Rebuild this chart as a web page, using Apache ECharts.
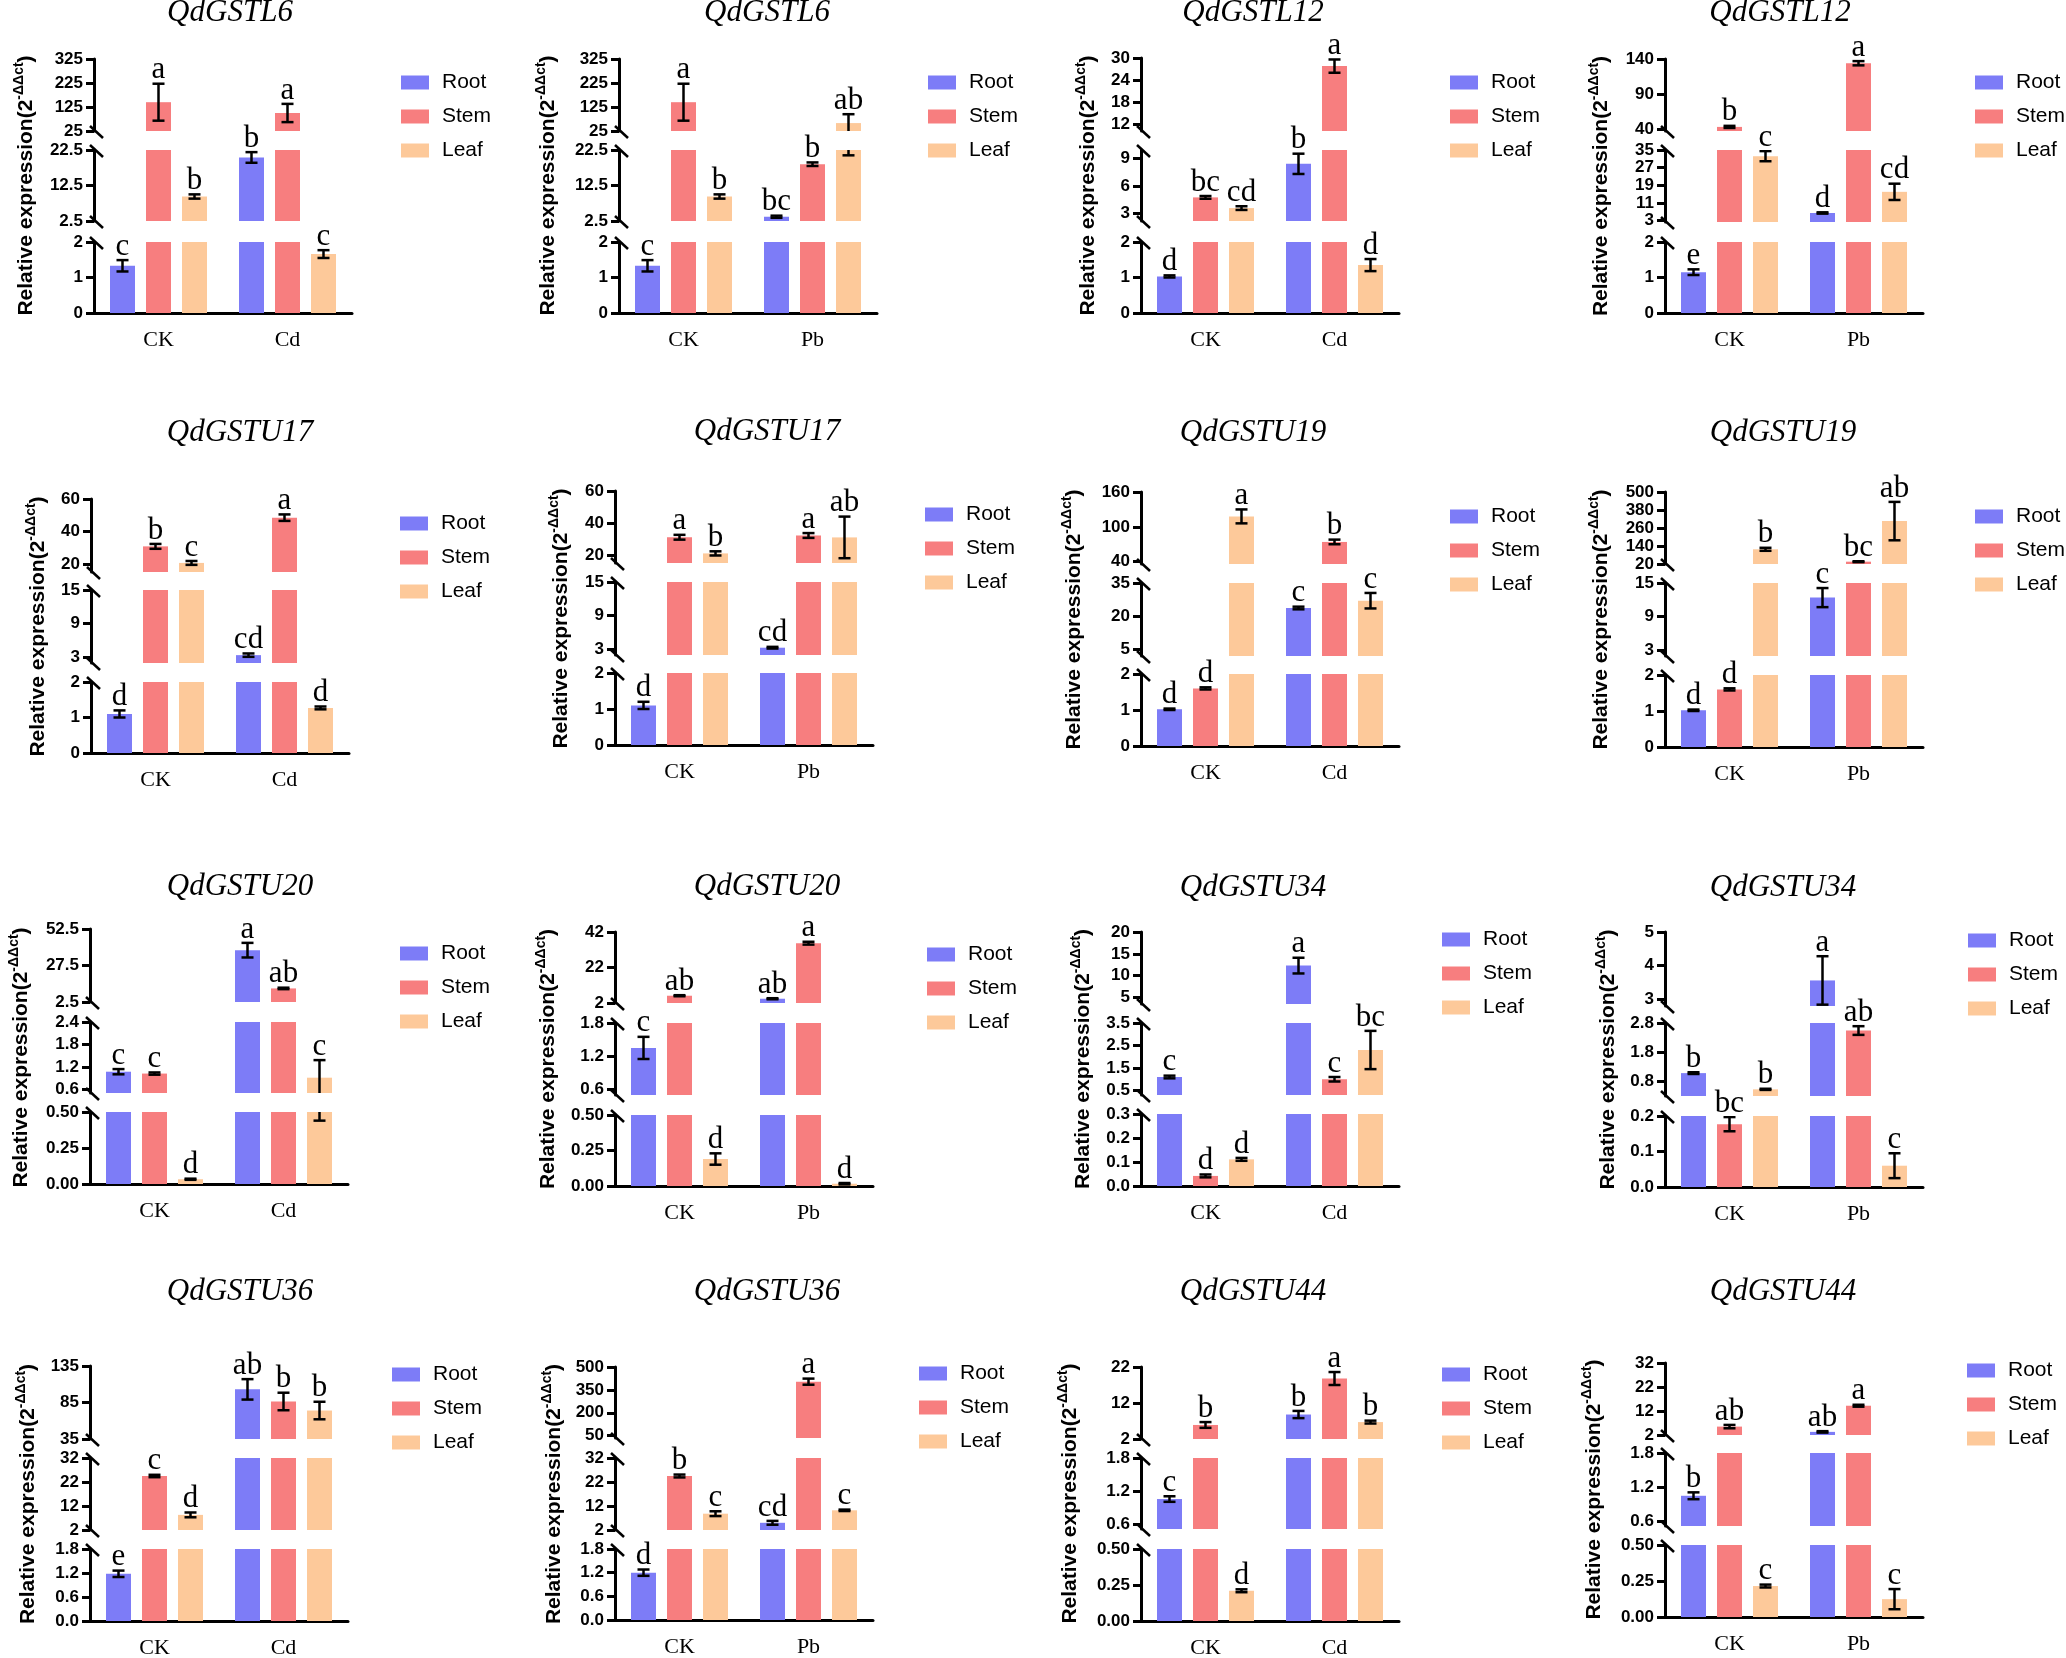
<!DOCTYPE html>
<html>
<head>
<meta charset="utf-8">
<script src="https://cdn.jsdelivr.net/npm/echarts@6/dist/echarts.min.js"></script>
<style>
html, body { margin: 0; background: #fff; }
#chart { width: 2066px; height: 1658px; }
</style>
</head>
<body>
<div id="chart"></div>
<script>
// ---- data (16 panels, 3 axis segments each: bottom, middle, top) ----
var tissues = ['Root', 'Stem', 'Leaf'];
var titles = ['QdGSTL6', 'QdGSTL6', 'QdGSTL12', 'QdGSTL12', 'QdGSTU17', 'QdGSTU17', 'QdGSTU19', 'QdGSTU19',
              'QdGSTU20', 'QdGSTU20', 'QdGSTU34', 'QdGSTU34', 'QdGSTU36', 'QdGSTU36', 'QdGSTU44', 'QdGSTU44'];
var groups = [['CK', 'Cd'], ['CK', 'Pb'], ['CK', 'Cd'], ['CK', 'Pb'], ['CK', 'Cd'], ['CK', 'Pb'], ['CK', 'Cd'], ['CK', 'Pb'],
              ['CK', 'Cd'], ['CK', 'Pb'], ['CK', 'Cd'], ['CK', 'Pb'], ['CK', 'Cd'], ['CK', 'Pb'], ['CK', 'Cd'], ['CK', 'Pb']];

var segRanges = [
  [[0, 2], [2.5, 22.5], [25, 325]],
  [[0, 2], [2.5, 22.5], [25, 325]],
  [[0, 2], [2.2, 9.9], [10.2, 30]],
  [[0, 2], [2.3, 35], [38, 140]],
  [[0, 2], [2, 15], [15, 60]],
  [[0, 2], [2, 15], [15, 60]],
  [[0, 2], [2, 35], [36, 160]],
  [[0, 2], [2, 15], [20, 500]],
  [[0, 0.5], [0.5, 2.4], [2.5, 52.5]],
  [[0, 0.5], [0.5, 1.8], [2, 42]],
  [[0, 0.3], [0.3, 3.5], [3.5, 20]],
  [[0, 0.2], [0.3, 2.82], [2.8, 5]],
  [[0, 1.8], [2, 32], [35, 135]],
  [[0, 1.8], [2, 32], [35, 500]],
  [[0, 0.5], [0.52, 1.8], [2, 22]],
  [[0, 0.5], [0.52, 1.8], [2, 32]]
];

var tickLabels = [
  [['0', '1', '2'], ['2.5', '12.5', '22.5'], ['25', '125', '225', '325']],
  [['0', '1', '2'], ['2.5', '12.5', '22.5'], ['25', '125', '225', '325']],
  [['0', '1', '2'], ['3', '6', '9'], ['12', '18', '24', '30']],
  [['0', '1', '2'], ['3', '11', '19', '27', '35'], ['40', '90', '140']],
  [['0', '1', '2'], ['3', '9', '15'], ['20', '40', '60']],
  [['0', '1', '2'], ['3', '9', '15'], ['20', '40', '60']],
  [['0', '1', '2'], ['5', '20', '35'], ['40', '100', '160']],
  [['0', '1', '2'], ['3', '9', '15'], ['20', '140', '260', '380', '500']],
  [['0.00', '0.25', '0.50'], ['0.6', '1.2', '1.8', '2.4'], ['2.5', '27.5', '52.5']],
  [['0.00', '0.25', '0.50'], ['0.6', '1.2', '1.8'], ['2', '22', '42']],
  [['0.0', '0.1', '0.2', '0.3'], ['0.5', '1.5', '2.5', '3.5'], ['5', '10', '15', '20']],
  [['0.0', '0.1', '0.2'], ['0.8', '1.8', '2.8'], ['3', '4', '5']],
  [['0.0', '0.6', '1.2', '1.8'], ['2', '12', '22', '32'], ['35', '85', '135']],
  [['0.0', '0.6', '1.2', '1.8'], ['2', '12', '22', '32'], ['50', '200', '350', '500']],
  [['0.00', '0.25', '0.50'], ['0.6', '1.2', '1.8'], ['2', '12', '22']],
  [['0.00', '0.25', '0.50'], ['0.6', '1.2', '1.8'], ['2', '12', '22', '32']]
];

var rootMean = [[1.33, 20.4], [1.33, 3.7], [1.03, 8.4], [1.15, 6.4], [1.1, 3.4], [1.1, 3.3], [1.02, 23.7], [1.02, 12.4],
                [1.07, 38], [1.35, 4.4], [1.1, 12.3], [1.09, 3.56], [1.18, 103], [1.2, 5], [1.06, 8.8], [1.05, 3.3]];
var rootErr = [[0.16, 1.5], [0.16, 0.3], [0.03, 1.1], [0.08, 0.3], [0.1, 0.3], [0.1, 0.15], [0.02, 0.6], [0.02, 1.7],
               [0.07, 5], [0.2, 0.3], [0.06, 1.8], [0.03, 0.72], [0.08, 14], [0.08, 0.8], [0.05, 1], [0.06, 0.3]];
var rootLetters = [['c', 'b'], ['c', 'bc'], ['d', 'b'], ['e', 'd'], ['d', 'cd'], ['d', 'cd'], ['d', 'c'], ['d', 'c'],
                   ['c', 'a'], ['c', 'ab'], ['c', 'a'], ['b', 'a'], ['e', 'ab'], ['d', 'cd'], ['c', 'b'], ['b', 'ab']];

var stemMean = [[145, 100], [145, 18.5], [4.76, 27.8], [43.8, 134], [30.8, 48.5], [31.1, 32.2], [1.6, 74], [1.6, 35.5],
                [1.02, 11.8], [6.1, 35.7], [0.042, 1.0], [0.177, 2.56], [24.5, 86.4], [24.5, 404], [5.9, 18.8], [5.5, 14.2]];
var stemErr = [[77, 38], [77, 0.5], [0.15, 1.8], [1.5, 3], [1.5, 2], [1.5, 1.5], [0.03, 4], [0.03, 3],
               [0.03, 0.5], [0.3, 0.8], [0.006, 0.1], [0.02, 0.15], [0.5, 12], [0.6, 20], [0.8, 1.8], [0.7, 0.4]];
var stemLetters = [['a', 'a'], ['a', 'b'], ['bc', 'a'], ['b', 'a'], ['b', 'a'], ['a', 'a'], ['d', 'b'], ['d', 'bc'],
                   ['c', 'ab'], ['ab', 'a'], ['d', 'c'], ['bc', 'ab'], ['c', 'b'], ['b', 'a'], ['b', 'a'], ['ab', 'a']];

var leafMean = [[9.4, 1.66], [9.4, 58], [3.6, 1.35], [32.2, 16], [20.6, 1.27], [21, 31], [118, 27], [118, 306],
                [0.033, 0.91], [0.19, 0.016], [0.111, 2.3], [0.53, 0.06], [8.3, 74], [8.8, 10.2], [0.21, 6.7], [0.215, 0.124]];
var leafErr = [[0.6, 0.11], [0.6, 37], [0.2, 0.17], [2.3, 3.7], [1.2, 0.04], [1.3, 13], [12, 3.5], [10, 128],
               [0.004, 0.47], [0.04, 0.005], [0.006, 0.85], [0.02, 0.035], [1, 12], [1, 0.3], [0.01, 0.4], [0.01, 0.07]];
var leafLetters = [['b', 'c'], ['b', 'ab'], ['cd', 'd'], ['c', 'cd'], ['c', 'd'], ['b', 'ab'], ['a', 'c'], ['b', 'ab'],
                   ['d', 'c'], ['d', 'd'], ['d', 'bc'], ['b', 'c'], ['d', 'b'], ['c', 'c'], ['d', 'b'], ['c', 'c']];

// ---- page layout (pixels) ----
// xr: right end of x axis; seg: [top, bottom] of bottom/middle/top segment; t*: title centre; l*: legend; nd: y name offset
var layout = [
  {xr: 352,  seg: [[242, 313], [150, 221], [59, 131]],     tx: 230,  ty: 13,   lx: 401,  ly: 82,   nd: 69},
  {xr: 877,  seg: [[242, 313], [150, 221], [59, 131]],     tx: 767,  ty: 13,   lx: 928,  ly: 82,   nd: 72},
  {xr: 1399, seg: [[242, 313], [150, 221], [58, 131]],     tx: 1253, ty: 13,   lx: 1450, ly: 82,   nd: 54},
  {xr: 1923, seg: [[242, 313], [150, 222], [59, 131]],     tx: 1780, ty: 13,   lx: 1975, ly: 82,   nd: 65},
  {xr: 349,  seg: [[682, 753], [590, 663], [499, 572]],    tx: 240,  ty: 433,  lx: 400,  ly: 523,  nd: 54},
  {xr: 873,  seg: [[673, 745], [582, 655], [491, 563]],    tx: 767,  ty: 432,  lx: 925,  ly: 514,  nd: 55},
  {xr: 1399, seg: [[674, 746], [583, 656], [492, 564]],    tx: 1253, ty: 433,  lx: 1450, ly: 516,  nd: 68},
  {xr: 1923, seg: [[675, 747], [583, 656], [492, 564]],    tx: 1783, ty: 433,  lx: 1975, ly: 516,  nd: 65},
  {xr: 348,  seg: [[1112, 1184], [1022, 1093], [929, 1002]], tx: 240,  ty: 887,  lx: 400,  ly: 953,  nd: 70},
  {xr: 873,  seg: [[1115, 1186], [1023, 1095], [932, 1003]], tx: 767,  ty: 887,  lx: 927,  ly: 954,  nd: 68},
  {xr: 1399, seg: [[1114, 1186], [1023, 1095], [932, 1004]], tx: 1253, ty: 888,  lx: 1442, ly: 939,  nd: 59},
  {xr: 1923, seg: [[1116, 1187], [1023, 1096], [932, 1006]], tx: 1783, ty: 888,  lx: 1968, ly: 940,  nd: 58},
  {xr: 348,  seg: [[1549, 1621], [1458, 1530], [1366, 1439]], tx: 240,  ty: 1292, lx: 392,  ly: 1374, nd: 63},
  {xr: 873,  seg: [[1549, 1620], [1458, 1530], [1367, 1438]], tx: 767,  ty: 1292, lx: 919,  ly: 1373, nd: 62},
  {xr: 1399, seg: [[1549, 1621], [1458, 1529], [1367, 1439]], tx: 1253, ty: 1292, lx: 1442, ly: 1374, nd: 72},
  {xr: 1923, seg: [[1545, 1617], [1453, 1526], [1363, 1435]], tx: 1783, ty: 1292, lx: 1967, ly: 1370, nd: 72}
];

var AXIS_W = 258;
var BAR_W = 25;
var BAR_STEP = 36; // bar width + gap between bars of one group
var colors = ['#7d7cf7', '#f77e7f', '#fdc99a'];
var SANS = "'Liberation Sans', Arial, sans-serif";
var SERIF = "'Liberation Serif', 'Times New Roman', serif";

var means = [rootMean, stemMean, leafMean];
var errs = [rootErr, stemErr, leafErr];
var letters = [rootLetters, stemLetters, leafLetters];

function segmentOf(ranges, v) {
  var s = 0;
  for (var i = 0; i < ranges.length; i++) {
    if (v >= ranges[i][0]) s = i;
  }
  return s;
}

function inside(r, y) {
  return y >= r.y - 0.5 && y <= r.y + r.height + 0.5;
}

function renderErr(params, api) {
  var r = params.coordSys;
  var c = api.value(0), k = api.value(1), m = api.value(2), e = api.value(3);
  var x = api.coord([c, m])[0] + (k - 1) * BAR_STEP;
  var hi = api.coord([c, m + e])[1];
  var lo = api.coord([c, m - e])[1];
  var st = {stroke: '#000', lineWidth: 2.5};
  var kids = [{type: 'line', shape: {x1: x, y1: hi, x2: x, y2: lo}, style: st}];
  if (inside(r, hi)) kids.push({type: 'line', shape: {x1: x - 6, y1: hi, x2: x + 6, y2: hi}, style: st});
  if (inside(r, lo)) kids.push({type: 'line', shape: {x1: x - 6, y1: lo, x2: x + 6, y2: lo}, style: st});
  return {type: 'group', children: kids};
}

function renderBreaks(params, api) {
  var r = params.coordSys;
  var seg = api.value(1);
  var st = {stroke: '#000', lineWidth: 2.5};
  var kids = [];
  if (seg < 2) kids.push({type: 'line', shape: {x1: r.x - 4, y1: r.y - 5, x2: r.x + 9, y2: r.y + 7}, style: st});
  if (seg > 0) kids.push({type: 'line', shape: {x1: r.x - 4, y1: r.y + r.height - 5, x2: r.x + 9, y2: r.y + r.height + 7}, style: st});
  return {type: 'group', children: kids};
}

var grids = [], xAxes = [], yAxes = [], series = [], legends = [], graphics = [];

for (let p = 0; p < titles.length; p++) {
  let L = layout[p];
  let left = L.xr - AXIS_W;

  graphics.push({
    type: 'text', x: L.tx, y: L.ty,
    style: {text: titles[p], fontFamily: SERIF, fontStyle: 'italic', fontSize: 31, fill: '#000',
            textAlign: 'center', textVerticalAlign: 'middle', align: 'center', verticalAlign: 'middle'}
  });

  legends.push({
    orient: 'vertical', left: L.lx, top: L.ly - 10, padding: 0,
    itemWidth: 28, itemHeight: 14, itemGap: 13, icon: 'rect', selectedMode: false,
    data: tissues,
    textStyle: {fontFamily: SANS, fontSize: 21, color: '#000', padding: [0, 0, 0, 8]}
  });

  for (let s = 0; s < 3; s++) {
    let g = grids.length;
    let range = segRanges[p][s];
    let labels = tickLabels[p][s];
    let vals = labels.map(Number);

    grids.push({left: left, top: L.seg[s][0], width: AXIS_W, height: L.seg[s][1] - L.seg[s][0],
                containLabel: false, outerBoundsMode: 'none'});

    xAxes.push({
      gridIndex: g, type: 'category', data: groups[p], show: s === 0,
      axisLine: {lineStyle: {color: '#000', width: 3}},
      axisTick: {alignWithLabel: true, length: 10, lineStyle: {color: '#000', width: 3}},
      axisLabel: {margin: 16, color: '#000', fontFamily: SERIF, fontSize: 22},
      splitLine: {show: false}
    });

    yAxes.push({
      gridIndex: g, type: 'value', min: range[0], max: range[1],
      axisLine: {show: true, lineStyle: {color: '#000', width: 3}},
      axisTick: {show: true, length: 8, lineStyle: {color: '#000', width: 3}, customValues: vals},
      axisLabel: {
        customValues: vals, margin: 11, color: '#000', fontFamily: SANS, fontWeight: 'bold', fontSize: 17,
        lineHeight: 14, interval: 0, hideOverlap: false, showMinLabel: true, showMaxLabel: true,
        formatter: function (v) {
          var i = vals.indexOf(v);
          return i >= 0 ? labels[i] : '';
        }
      },
      splitLine: {show: false},
      name: s === 1 ? '{n|Relative expression(2}{s|-ΔΔct}{n|)}' : '',
      nameLocation: 'middle', nameRotate: 90, nameGap: L.nd - 12, nameMoveOverlap: false,
      nameTextStyle: {
        color: '#000',
        rich: {
          n: {fontFamily: SANS, fontWeight: 'bold', fontSize: 21, lineHeight: 25, verticalAlign: 'bottom', color: '#000'},
          s: {fontFamily: SANS, fontWeight: 'bold', fontSize: 14, lineHeight: 14, verticalAlign: 'top', color: '#000'}
        }
      }
    });

    // bars: drawn from zero and clipped to the segment
    tissues.forEach(function (t, k) {
      series.push({
        type: 'bar', name: t, xAxisIndex: g, yAxisIndex: g,
        data: means[k][p], barWidth: BAR_W, barGap: '44%', clip: true, silent: true,
        itemStyle: {color: colors[k]}
      });
    });

    // error bars and significance letters
    let errData = [], letterData = [];
    for (let c = 0; c < groups[p].length; c++) {
      for (let k = 0; k < 3; k++) {
        let m = means[k][p][c], e = errs[k][p][c];
        errData.push([c, k, m, e]);
        let topV = m + e;
        if (segmentOf(segRanges[p], topV) === s) {
          letterData.push([c, k, Math.min(topV, range[1]), letters[k][p][c]]);
        }
      }
    }
    series.push({
      type: 'custom', xAxisIndex: g, yAxisIndex: g, clip: true, silent: true, z: 3,
      encode: {x: 0, y: 2}, data: errData, renderItem: renderErr
    });
    series.push({
      type: 'custom', xAxisIndex: g, yAxisIndex: g, clip: false, silent: true, z: 4,
      encode: {x: 0, y: 2}, data: letterData,
      renderItem: function (params, api) {
        var c = api.value(0), k = api.value(1), v = api.value(2);
        var pt = api.coord([c, v]);
        return {
          type: 'text', x: pt[0] + (k - 1) * BAR_STEP, y: pt[1] + 2,
          style: {text: letterData[params.dataIndex][3], fontFamily: SERIF, fontSize: 31, fill: '#000',
                  textAlign: 'center', textVerticalAlign: 'bottom', align: 'center', verticalAlign: 'bottom'}
        };
      }
    });
    // axis break marks
    series.push({
      type: 'custom', xAxisIndex: g, yAxisIndex: g, clip: false, silent: true, z: 5,
      encode: {x: 0, y: 2}, data: [[0, s, range[0]]], renderItem: renderBreaks
    });
  }
}

var chart = echarts.init(document.getElementById('chart'));
chart.setOption({
  backgroundColor: '#fff',
  animation: false,
  grid: grids,
  xAxis: xAxes,
  yAxis: yAxes,
  legend: legends,
  graphic: graphics,
  series: series
});
</script>
</body>
</html>
